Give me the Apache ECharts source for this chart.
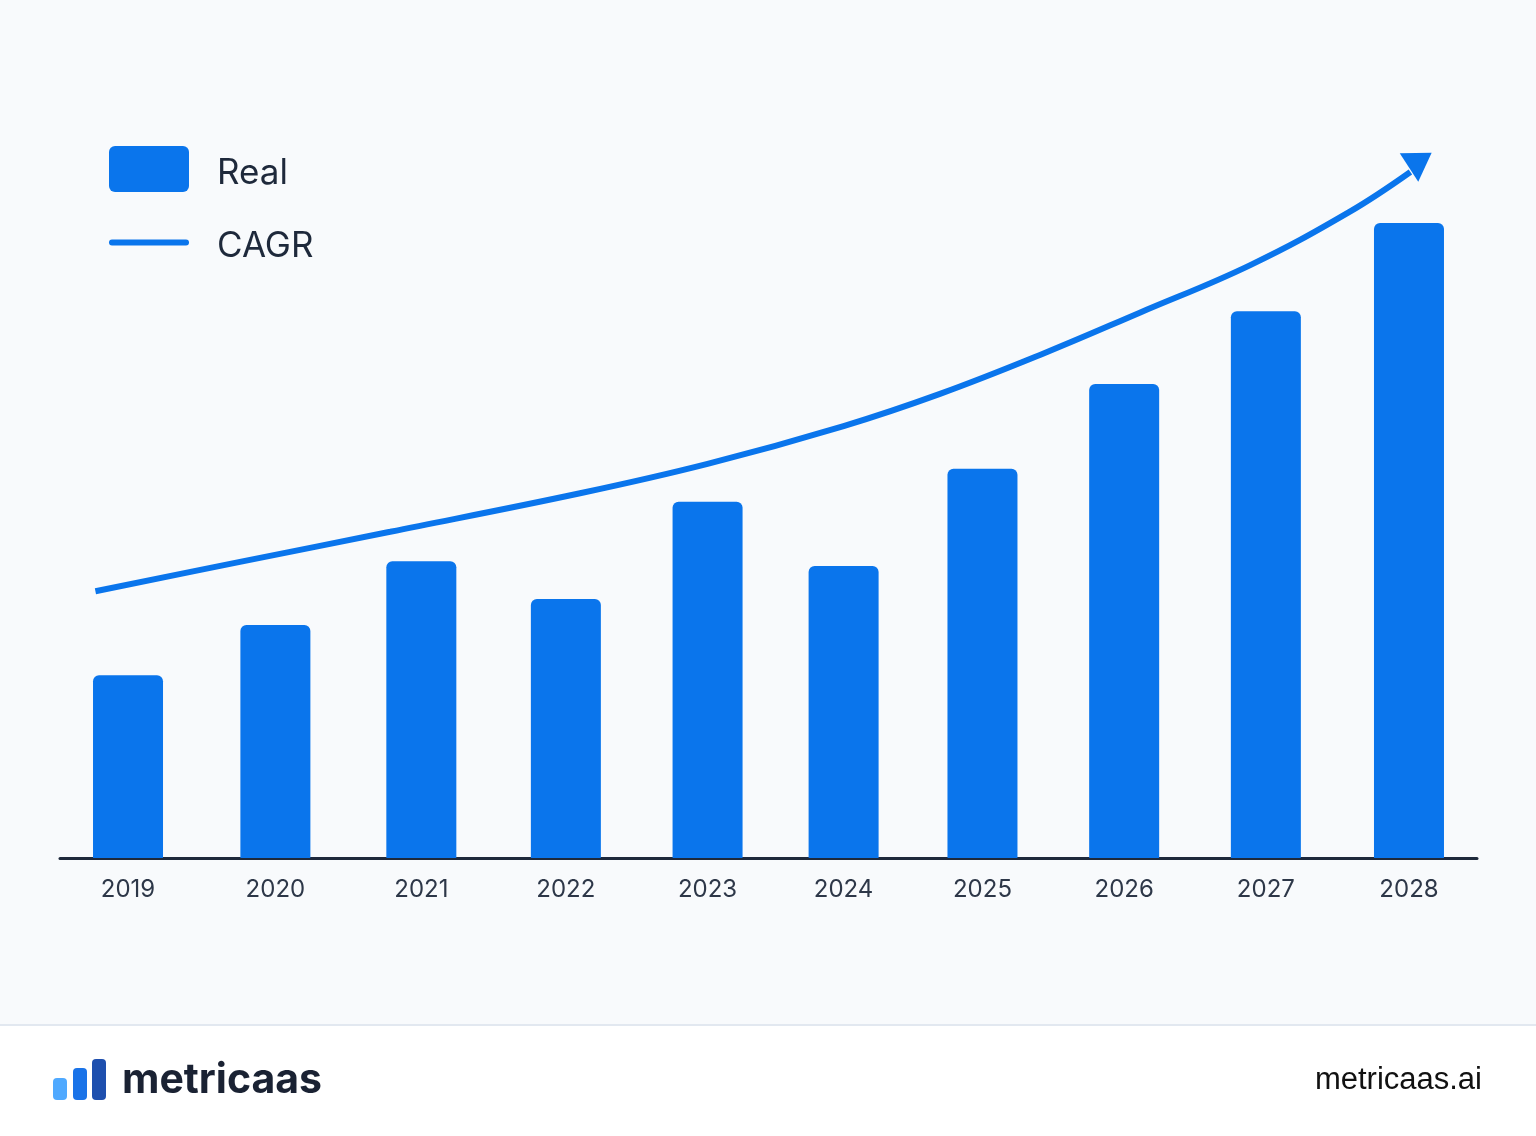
<!DOCTYPE html>
<html>
<head>
<meta charset="utf-8">
<script src="https://cdn.jsdelivr.net/npm/echarts@6/dist/echarts.min.js"></script>
<style>
  html, body { margin: 0; padding: 0; background: #f8fafc; }
  #chart { width: 1536px; height: 1136px; }
</style>
</head>
<body>
<div id="chart"></div>
<script>
  // 年份与实际值
  const years = ['2019', '2020', '2021', '2022', '2023', '2024', '2025', '2026', '2027', '2028'];
  const barPos = [2018.98, 2020.02, 2021.05, 2022.07, 2023.07, 2024.03, 2025.01, 2026.01, 2027.01, 2028.02];
  const realValues = [26.1, 33.3, 42.4, 37.0, 50.9, 41.7, 55.6, 67.7, 78.1, 90.7];
  // CAGR 曲线 (x 为年份位置)
  const cagrX = [2018.75, 2019.77, 2020.83, 2022.17, 2023.07, 2024.03, 2024.71, 2025.42, 2026.12, 2026.9, 2027.6, 2028.03];
  const cagrY = [38.1, 42.3, 46.6, 52.1, 56.3, 61.7, 66.3, 71.9, 77.9, 84.7, 92.3, 98.0];
  const arrowPoint = [2028.1, 99.7];

  const blue = '#0a75ec';
  let chart = echarts.init(document.getElementById('chart'));

  let option = {
    backgroundColor: '#f8fafc',
    animation: false,
    legend: {
      orient: 'vertical',
      left: 109,
      top: 146,
      padding: 0,
      itemWidth: 80,
      itemHeight: 46,
      itemGap: 37,
      formatter: '{t|{name}}',
      textStyle: {
        rich: {
          t: {
            fontSize: 35,
            color: '#1e293b',
            fontFamily: 'Inter',
            padding: [8, 0, 0, 23]
          }
        }
      },
      data: [
        { name: 'Real', icon: 'path://M6,0H74A6,6 0 0 1 80,6V40A6,6 0 0 1 74,46H6A6,6 0 0 1 0,40V6A6,6 0 0 1 6,0Z' },
        { name: 'CAGR', icon: 'path://M3,0H77A3,3 0 0 1 77,6H3A3,3 0 0 1 3,0Z' }
      ]
    },
    grid: {
      left: 60,
      right: 59,
      top: 88,
      bottom: 278
    },
    xAxis: [{
      type: 'category',
      data: years,
      axisLine: { lineStyle: { color: '#1e293b', width: 3 } },
      axisTick: { show: false },
      axisLabel: { show: false }
    }, {
      type: 'value',
      min: 2018.5,
      max: 2028.5,
      show: false
    }],
    yAxis: {
      type: 'value',
      min: 0,
      max: 110,
      show: false
    },
    graphic: [
      // 底部白色区域
      { type: 'rect', left: 0, top: 1025, shape: { width: 1536, height: 111 }, style: { fill: '#ffffff' }, z: -1 },
      { type: 'rect', left: 0, top: 1024, shape: { width: 1536, height: 2 }, style: { fill: '#e2e8f0' } },
      { type: 'rect', left: 53, top: 1078, shape: { width: 14, height: 22, r: 4 }, style: { fill: '#4fa9ff' } },
      { type: 'rect', left: 73, top: 1068, shape: { width: 14, height: 32, r: 4 }, style: { fill: '#1a73e8' } },
      { type: 'rect', left: 92, top: 1059, shape: { width: 14, height: 41, r: 4 }, style: { fill: '#1e4fae' } },
      {
        type: 'text', left: 122, top: 1060,
        style: { text: 'metricaas', fontSize: 41, fontWeight: 'bold', fill: '#1a2233', fontFamily: 'Inter' }
      },
      {
        type: 'text', right: 54, top: 1065,
        style: { text: 'metricaas.ai', fontSize: 31, fill: '#111111', fontFamily: 'Liberation Sans' }
      }
    ],
    series: [{
      name: 'Real',
      type: 'bar',
      xAxisIndex: 1,
      data: barPos.map((x, i) => [x, realValues[i]]),
      barWidth: 70,
      itemStyle: {
        color: blue,
        borderRadius: [6, 6, 0, 0]
      },
      // 年份标签放在柱子下方
      label: {
        show: true,
        position: 'insideBottom',
        distance: 0,
        offset: [0, 44],
        formatter: (p) => years[p.dataIndex],
        fontSize: 24,
        color: '#2d3748',
        fontFamily: 'Inter'
      }
    }, {
      name: 'CAGR',
      type: 'line',
      xAxisIndex: 1,
      data: cagrX.map((x, i) => [x, cagrY[i]]),
      smooth: 0.4,
      symbol: 'none',
      lineStyle: { color: blue, width: 6 },
      itemStyle: { color: blue }
    }, {
      type: 'scatter',
      xAxisIndex: 1,
      data: [arrowPoint],
      symbol: 'triangle',
      symbolSize: [34, 27],
      symbolRotate: -57,
      itemStyle: { color: blue, opacity: 1 }
    }]
  };
  chart.setOption(option);
</script>
</body>
</html>
